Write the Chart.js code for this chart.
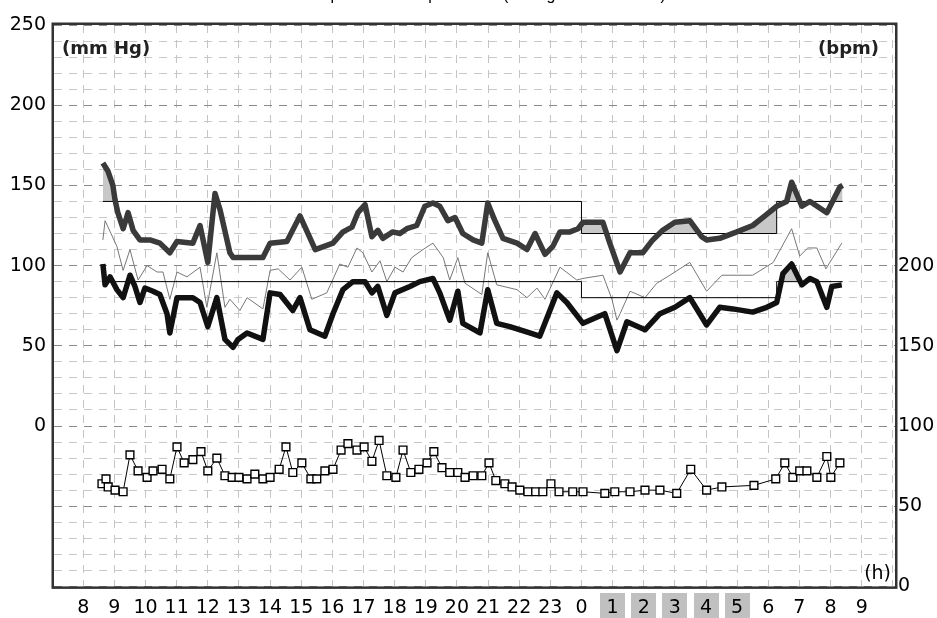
<!DOCTYPE html>
<html>
<head>
<meta charset="utf-8">
<title>Blood pressure and pulse rate</title>
<script src="https://cdn.jsdelivr.net/npm/chart.js"></script>
<style>
  html, body { margin: 0; padding: 0; background: #fff; }
  #wrap { width: 937px; height: 618px; }
</style>
</head>
<body>
<div id="wrap"><canvas id="chart" width="937" height="618"></canvas></div>
<script>
// times are hours from midnight of the first day (24 = 0:00, 32 = 8:00 next morning)
const sysTimes = [8.63, 8.79, 8.95, 9.02, 9.11, 9.28, 9.44, 9.60, 9.82, 10.14, 10.46, 10.78, 11.01, 11.52, 11.75,
  12.00, 12.23, 12.39, 12.71, 12.81, 13.77, 14.00, 14.54, 14.96, 15.45, 16.02, 16.34, 16.63, 16.82, 17.05,
  17.27, 17.46, 17.62, 17.94, 18.17, 18.39, 18.71, 18.97, 19.23, 19.45, 19.71, 19.94, 20.19, 20.52, 20.80,
  20.99, 21.22, 21.48, 21.93, 22.25, 22.51, 22.83, 23.08, 23.31, 23.63, 23.89, 24.05, 24.69, 24.91, 25.24,
  25.56, 25.97, 26.29, 26.61, 27.00, 27.48, 27.86, 28.02, 28.44, 28.99, 29.50, 29.95, 30.27, 30.59, 30.75,
  31.08, 31.34, 31.88, 32.30, 32.39];
const sysValues = [164, 159, 150, 141, 133, 123, 133, 122, 116, 116, 114, 108, 115, 114, 125,
  102, 145, 135, 108, 105, 105, 114, 115, 131, 110, 114, 121, 124, 133, 138,
  118, 122, 117, 121, 120, 123, 125, 137, 139, 137, 128, 130, 120, 116, 114,
  139, 128, 117, 114, 110, 120, 107, 112, 121, 121, 123, 127, 127, 114, 96,
  108, 108, 116, 122, 127, 128, 118, 116, 117, 121, 125, 132, 137, 140, 152,
  137, 140, 133, 149, 150];

const diaTimes = [8.63, 8.70, 8.86, 9.08, 9.28, 9.50, 9.66, 9.82, 9.98, 10.24, 10.46, 10.69, 10.78, 11.01, 11.52,
  11.75, 12.00, 12.29, 12.55, 12.81, 12.97, 13.26, 13.77, 14.00, 14.32, 14.73, 14.96, 15.28, 15.76, 16.02,
  16.34, 16.66, 17.05, 17.27, 17.46, 17.75, 18.01, 18.49, 18.81, 19.23, 19.45, 19.77, 20.03, 20.19, 20.74,
  20.99, 21.28, 21.70, 22.34, 22.66, 23.21, 23.53, 24.05, 24.75, 25.14, 25.46, 26.04, 26.52, 27.00, 27.48,
  28.02, 28.44, 28.86, 29.50, 29.95, 30.27, 30.47, 30.75, 31.08, 31.34, 31.56, 31.88, 32.04, 32.36];
const diaValues = [101, 88, 93, 85, 80, 94, 87, 77, 86, 84, 82, 70, 58, 80, 80,
  77, 62, 80, 54, 49, 54, 58, 54, 83, 82, 72, 80, 60, 56, 70,
  85, 90, 90, 83, 87, 69, 83, 87, 90, 92, 83, 66, 84, 64, 58,
  85, 64, 62, 58, 56, 83, 77, 64, 70, 47, 65, 60, 70, 74, 80,
  63, 74, 73, 71, 74, 77, 95, 101, 88, 92, 90, 74, 87, 88];

const meanTimes = [8.63, 8.70, 9.08, 9.28, 9.50, 9.76, 10.05, 10.37, 10.56, 10.78, 11.01, 11.33, 11.75, 11.97, 12.29,
  12.55, 12.71, 13.03, 13.26, 13.77, 14.00, 14.26, 14.64, 15.02, 15.34, 15.82, 16.24, 16.50, 16.79, 16.98,
  17.27, 17.53, 17.75, 18.01, 18.27, 18.55, 18.91, 19.23, 19.56, 19.77, 20.03, 20.26, 20.80, 20.99, 21.28,
  21.93, 22.25, 22.57, 22.83, 23.31, 23.85, 24.05, 24.69, 24.98, 25.14, 25.24, 25.56, 26.04, 26.42, 26.84,
  27.48, 28.02, 28.51, 29.50, 30.16, 30.75, 31.01, 31.27, 31.56, 31.85, 32.36];
const meanValues = [116, 128, 112, 97, 110, 91, 100, 96, 96, 79, 96, 93, 99, 74, 108,
  74, 79, 72, 80, 73, 97, 98, 91, 99, 79, 83, 101, 99, 111, 108,
  96, 103, 90, 99, 96, 105, 110, 114, 105, 91, 105, 89, 82, 108, 88,
  85, 80, 86, 79, 99, 91, 92, 94, 79, 66, 70, 84, 80, 89, 94,
  102, 84, 94, 94, 102, 123, 106, 111, 111, 98, 114];

const hrTimes = [8.60, 8.73, 8.80, 9.02, 9.28, 9.50, 9.76, 10.05, 10.24, 10.53, 10.78, 11.01, 11.24, 11.52, 11.78,
  12.00, 12.29, 12.55, 12.78, 13.00, 13.26, 13.51, 13.77, 14.00, 14.29, 14.51, 14.73, 15.02, 15.31, 15.50,
  15.76, 16.02, 16.28, 16.50, 16.79, 17.02, 17.27, 17.50, 17.75, 18.04, 18.27, 18.52, 18.78, 19.04, 19.26,
  19.52, 19.77, 20.03, 20.26, 20.52, 20.80, 21.03, 21.25, 21.54, 21.77, 22.02, 22.28, 22.53, 22.76, 23.02,
  23.28, 23.72, 24.05, 24.75, 25.07, 25.56, 26.04, 26.52, 27.06, 27.51, 28.02, 28.51, 29.54, 30.24, 30.53,
  30.79, 31.01, 31.24, 31.56, 31.88, 32.01, 32.30];
const hrValues = [64, 67, 62, 60, 59, 82, 72, 68, 72, 73, 67, 87, 77, 79, 84,
  72, 80, 69, 68, 68, 67, 70, 67, 68, 73, 87, 71, 77, 67, 67,
  72, 73, 85, 89, 85, 87, 78, 91, 69, 68, 85, 71, 73, 77, 84,
  74, 71, 71, 68, 69, 69, 77, 66, 64, 62, 60, 59, 59, 59, 64,
  59, 59, 59, 58, 59, 59, 60, 60, 58, 73, 60, 62, 63, 67, 77,
  68, 72, 72, 68, 81, 68, 77];

// day / night limits (step changes at 0:00 and at the end of sleep)
const limitTimes = [8.63, 24.0, 30.27, 32.39];
const sysLimitValues = [140, 120, 140, 140];
const diaLimitValues = [90, 80, 90, 90];

const hourTickValues = [8, 9, 10, 11, 12, 13, 14, 15, 16, 17, 18, 19, 20, 21, 22, 23, 24, 25, 26, 27, 28, 29, 30, 31, 32, 33];
const hourLabels = ['8', '9', '10', '11', '12', '13', '14', '15', '16', '17', '18', '19', '20', '21', '22', '23',
  '0', '1', '2', '3', '4', '5', '6', '7', '8', '9'];
const nightHours = [25, 26, 27, 28, 29];
const mmHgTicks = [0, 50, 100, 150, 200, 250];
const bpmTicks = [0, 50, 100, 150, 200];

const toPoints = (xs, ys) => xs.map((x, i) => ({ x: x, y: ys[i] }));

const FONT = '"DejaVu Sans", sans-serif';

const decorPlugin = {
  id: 'decor',
  beforeDraw(chart) {
    const { ctx, scales: { x } } = chart;
    ctx.save();
    ctx.fillStyle = '#c0c0c0';
    nightHours.forEach(h => {
      const px = x.getPixelForValue(h);
      ctx.fillRect(Math.round(px - 12.5), 593, 25, 25);
    });
    ctx.restore();
  },
  afterDraw(chart) {
    const { ctx, chartArea: a } = chart;
    ctx.save();
    ctx.strokeStyle = '#333';
    ctx.lineWidth = 2.5;
    ctx.strokeRect(a.left - 1.25, a.top - 1.25, a.right - a.left + 2.5, a.bottom - a.top + 2.5);

    ctx.fillStyle = '#222';
    ctx.font = 'bold 18px ' + FONT;
    ctx.textBaseline = 'alphabetic';
    ctx.textAlign = 'left';
    ctx.fillText('(mm Hg)', 62, 54);
    ctx.textAlign = 'right';
    ctx.fillText('(bpm)', 879, 54);
    ctx.fillStyle = '#000';
    ctx.font = '19px ' + FONT;
    ctx.fillText('(h)', 891, 579);

    // title line, almost entirely above the top edge of the picture
    ctx.font = '16px "Liberation Sans", Arial, sans-serif';
    ctx.textAlign = 'left';
    const head = 'Blood pressure and pulse rate ';
    const x0 = 503 - ctx.measureText(head).width;
    ctx.fillText(head + '(mmHg and beats/min)', x0, 0);
    ctx.restore();
  }
};

new Chart(document.getElementById('chart'), {
  type: 'line',
  data: {
    datasets: [
      {
        label: 'Systolic',
        data: toPoints(sysTimes, sysValues),
        borderColor: '#3a3a3a',
        borderWidth: 5.5,
        borderJoinStyle: 'round',
        pointRadius: 0,
        fill: { target: 2, above: '#c8c8c8', below: 'rgba(0,0,0,0)' },
        order: 1
      },
      {
        label: 'Diastolic',
        data: toPoints(diaTimes, diaValues),
        borderColor: '#111',
        borderWidth: 5.5,
        borderJoinStyle: 'round',
        pointRadius: 0,
        fill: { target: 3, above: '#c8c8c8', below: 'rgba(0,0,0,0)' },
        order: 1
      },
      {
        label: 'Systolic limit',
        data: toPoints(limitTimes, sysLimitValues),
        stepped: 'before',
        borderColor: '#000',
        borderWidth: 1,
        pointRadius: 0,
        fill: false,
        order: 3
      },
      {
        label: 'Diastolic limit',
        data: toPoints(limitTimes, diaLimitValues),
        stepped: 'before',
        borderColor: '#000',
        borderWidth: 1,
        pointRadius: 0,
        fill: false,
        order: 3
      },
      {
        label: 'Mean',
        data: toPoints(meanTimes, meanValues),
        borderColor: '#777',
        borderWidth: 1,
        pointRadius: 0,
        fill: false,
        order: 4
      },
      {
        label: 'Pulse',
        data: toPoints(hrTimes, hrValues),
        yAxisID: 'y2',
        borderColor: '#000',
        borderWidth: 1,
        pointStyle: 'rect',
        pointRadius: 5.5,
        pointBackgroundColor: '#fff',
        pointBorderColor: '#000',
        pointBorderWidth: 1.4,
        fill: false,
        order: 2
      }
    ]
  },
  options: {
    responsive: false,
    animation: false,
    events: [],
    layout: { padding: { top: 25, left: 0, right: 0, bottom: 0 } },
    elements: { line: { tension: 0 } },
    plugins: {
      legend: { display: false },
      tooltip: { enabled: false },
      filler: { drawTime: 'beforeDatasetsDraw' }
    },
    scales: {
      x: {
        type: 'linear',
        min: 7.06,
        max: 34.07,
        afterFit: s => { s.height = 31.6; },
        border: { display: false, dash: [8, 7] },
        grid: { color: '#c4c4c4', lineWidth: 1, drawTicks: false },
        ticks: {
          stepSize: 1,
          autoSkip: false,
          includeBounds: false,
          maxRotation: 0,
          padding: 10,
          color: '#000',
          font: { family: FONT, size: 19 },
          callback: v => {
            const i = hourTickValues.indexOf(v);
            return i >= 0 ? hourLabels[i] : '';
          }
        }
      },
      y: {
        position: 'left',
        min: -100,
        max: 250,
        afterFit: s => { s.width = 54; },
        border: { display: false, dash: [8, 7] },
        grid: {
          drawTicks: false,
          color: c => (c.tick && c.tick.value % 50 === 0) ? '#8a8a8a' : '#c8c8c8'
        },
        ticks: {
          stepSize: 10,
          autoSkip: false,
          includeBounds: false,
          padding: 8,
          color: '#000',
          font: { family: FONT, size: 19 },
          callback: v => mmHgTicks.includes(v) ? String(v) : ''
        }
      },
      y2: {
        position: 'right',
        min: 0,
        max: 350,
        afterFit: s => { s.width = 42; },
        border: { display: false },
        grid: { drawOnChartArea: false, drawTicks: false },
        ticks: {
          stepSize: 10,
          autoSkip: false,
          includeBounds: false,
          padding: 3,
          color: '#000',
          font: { family: FONT, size: 19 },
          callback: v => bpmTicks.includes(v) ? String(v) : ''
        }
      }
    }
  },
  plugins: [decorPlugin]
});
</script>
</body>
</html>
